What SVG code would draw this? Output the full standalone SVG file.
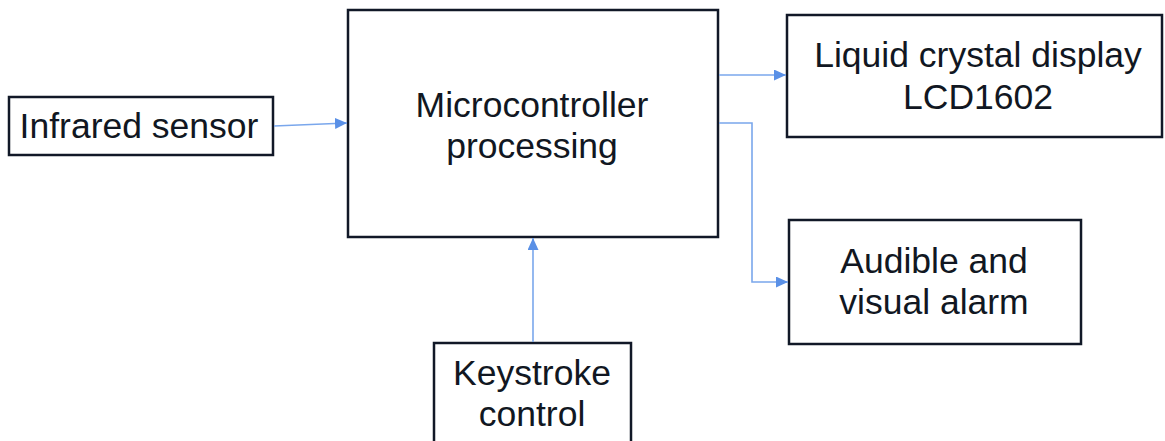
<svg xmlns="http://www.w3.org/2000/svg" width="1165" height="441" viewBox="0 0 1165 441">
  <style>
    .box { fill: #ffffff; stroke: #111827; stroke-width: 2.5; }
    .label { font-family: "Liberation Sans", Arial, sans-serif; font-size: 35.5px; fill: #111722; text-anchor: middle; }
    .link { fill: none; stroke: #7aa7ec; stroke-width: 1.6; }
  </style>
  <defs>
    <marker id="arrow" viewBox="0 0 12 11" refX="12" refY="5.5" markerWidth="12" markerHeight="11" markerUnits="userSpaceOnUse" orient="auto">
      <path d="M0,0 L12,5.5 L0,11 Z" fill="#5a90e6"/>
    </marker>
  </defs>
  <rect width="1165" height="441" fill="#ffffff"/>

  <g id="infrared-sensor">
    <rect class="box" x="9" y="97" width="264" height="58"/>
    <text class="label" x="139" y="138">Infrared sensor</text>
  </g>

  <g id="microcontroller">
    <rect class="box" x="348" y="10" width="370" height="227"/>
    <text class="label" x="532" y="117">Microcontroller</text>
    <text class="label" x="532" y="158">processing</text>
  </g>

  <g id="lcd">
    <rect class="box" x="787" y="15" width="375" height="122"/>
    <text class="label" x="978" y="67">Liquid crystal display</text>
    <text class="label" x="978" y="109">LCD1602</text>
  </g>

  <g id="alarm">
    <rect class="box" x="789" y="220" width="292" height="124"/>
    <text class="label" x="934" y="273">Audible and</text>
    <text class="label" x="934" y="314">visual alarm</text>
  </g>

  <g id="keystroke">
    <rect class="box" x="434" y="343" width="197" height="110"/>
    <text class="label" x="532" y="385">Keystroke</text>
    <text class="label" x="532" y="426">control</text>
  </g>

  <g id="connectors">
    <path class="link" d="M274,126 L347,123" marker-end="url(#arrow)"/>
    <path class="link" d="M719,75 L786,75" marker-end="url(#arrow)"/>
    <path class="link" d="M719,123 L752,123 L752,282 L788,282" marker-end="url(#arrow)"/>
    <path class="link" d="M533,342 L533,238" marker-end="url(#arrow)"/>
  </g>
</svg>
